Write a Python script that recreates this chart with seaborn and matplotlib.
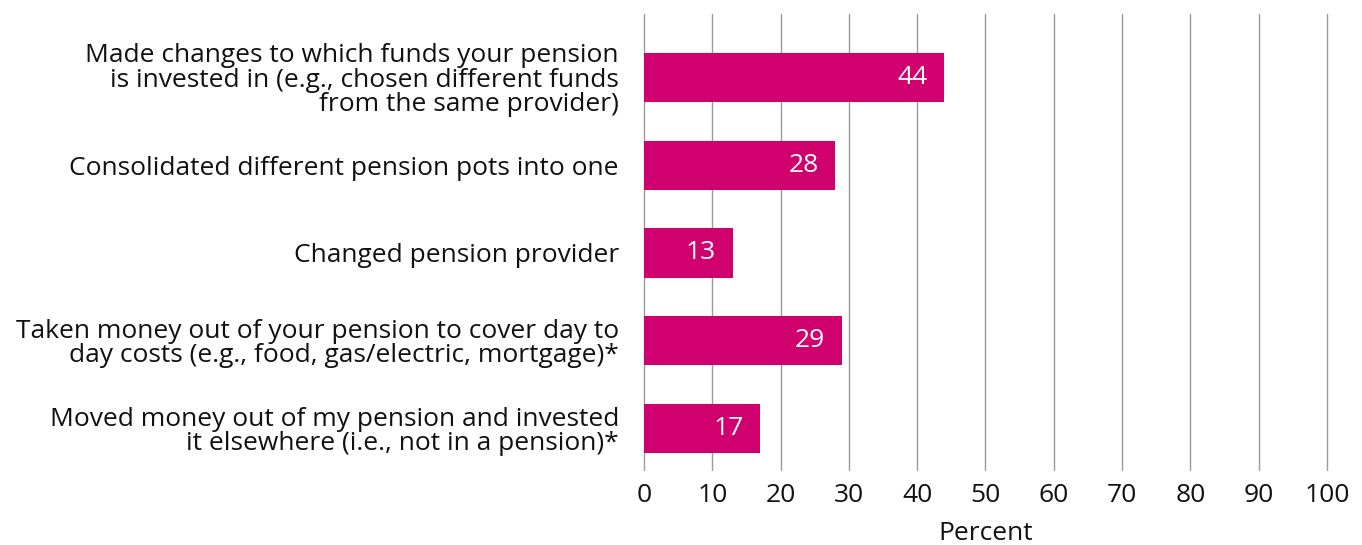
import matplotlib
matplotlib.use("Agg")
import matplotlib.pyplot as plt
import seaborn as sns
import pandas as pd

categories = [
    "Made changes to which funds your pension\nis invested in (e.g., chosen different funds\nfrom the same provider)",
    "Consolidated different pension pots into one",
    "Changed pension provider",
    "Taken money out of your pension to cover day to\nday costs (e.g., food, gas/electric, mortgage)*",
    "Moved money out of my pension and invested\nit elsewhere (i.e., not in a pension)*",
]
values = [44, 28, 13, 29, 17]
x_ticks = [0, 10, 20, 30, 40, 50, 60, 70, 80, 90, 100]

sns.set_theme(style="white")
plt.rcParams["font.family"] = ["Open Sans", "DejaVu Sans"]

FS = 19
df = pd.DataFrame({"category": categories, "value": values})

fig = plt.figure(figsize=(13.62, 5.45), dpi=100)
ax = fig.add_axes([0.4728, 0.1376, 0.5015, 0.8367])

sns.barplot(data=df, x="value", y="category", color="#D0006F",
            saturation=1, width=0.56, ax=ax, zorder=3, linewidth=0)

ax.set_xlim(0, 100)
ax.set_ylim(4.47, -0.72)
ax.set_xticks(x_ticks)
ax.set_xticklabels([str(t) for t in x_ticks], fontsize=FS, color="#111111")
ax.tick_params(axis="x", length=0, pad=9)
ax.tick_params(axis="y", length=0, pad=18, labelsize=FS, labelcolor="#111111")
for lab in ax.get_yticklabels():
    lab.set_horizontalalignment("right")
    lab.set_multialignment("right")
    lab.set_linespacing(0.98)

ax.xaxis.grid(True, color="#9a9a9a", linewidth=1)
for line in ax.get_xgridlines():
    line.set_clip_on(False)
ax.yaxis.grid(False)
for s in ax.spines.values():
    s.set_visible(False)

ax.set_xlabel("Percent", fontsize=FS, color="#111111", labelpad=10)
ax.set_ylabel("")

for i, v in enumerate(values):
    ax.annotate(str(v), xy=(v, i), xytext=(-12, 0), textcoords="offset points",
                ha="right", va="center", color="white", fontsize=FS, zorder=4)

fig.savefig("out.png", dpi=100)
